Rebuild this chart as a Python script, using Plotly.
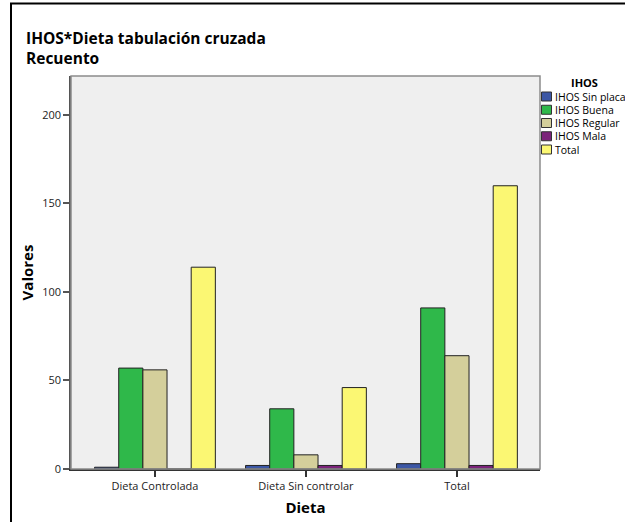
import plotly.graph_objects as go

# Cross-tabulation counts: IHOS category by diet group
categories = ["Dieta Controlada", "Dieta Sin controlar", "Total"]
series_names = ["IHOS Sin placa", "IHOS Buena", "IHOS Regular", "IHOS Mala", "Total"]
series_values = [
    [1, 2, 3],
    [57, 34, 91],
    [56, 8, 64],
    [0, 2, 2],
    [114, 46, 160],
]
series_colors = ["#3c57a5", "#2fb84a", "#d4cf9b", "#7b237a", "#fbf773"]
y_ticks = [0, 50, 100, 150, 200]

W, H = 625, 522
ML, MR, MT, MB = 71, 85, 76, 53
PW, PH = W - ML - MR, H - MT - MB

def px_x(x):
    return (x - ML) / PW

def px_y(y):
    return (H - MB - y) / PH

FONT = "Open Sans"

fig = go.Figure()
for name, vals, col in zip(series_names, series_values, series_colors):
    fig.add_trace(go.Bar(
        x=categories, y=vals, name=name,
        marker=dict(color=col, line=dict(color="#222222", width=1)),
        showlegend=False,
    ))

shapes = [
    # plot frame
    dict(type="rect", xref="paper", yref="paper", x0=0, y0=0, x1=1, y1=1,
         line=dict(color="#8c8c8c", width=1.5), layer="above"),
    # outer border of the output panel
    dict(type="line", xref="paper", yref="paper", x0=px_x(11), x1=px_x(11),
         y0=px_y(3), y1=px_y(530), line=dict(color="black", width=2)),
    dict(type="line", xref="paper", yref="paper", x0=px_x(10), x1=px_x(640),
         y0=px_y(3.5), y1=px_y(3.5), line=dict(color="black", width=2)),
]

annotations = [
    dict(text="<b>IHOS*Dieta tabulación cruzada</b><br><b>Recuento</b>",
         xref="paper", yref="paper", align="left",
         x=px_x(24), y=px_y(48), xanchor="left", yanchor="middle", showarrow=False,
         font=dict(family=FONT, size=15.5, color="black")),
    dict(text="<b>IHOS</b>", xref="paper", yref="paper",
         x=px_x(584), y=px_y(82), xanchor="center", yanchor="middle", showarrow=False,
         font=dict(family=FONT, size=11, color="black")),
]

# Hand-placed legend
for i, (name, col) in enumerate(zip(series_names, series_colors)):
    cy = 96.5 + i * 13.25
    shapes.append(dict(type="rect", xref="paper", yref="paper",
                       x0=px_x(541.5), x1=px_x(551.5), y0=px_y(cy - 4.5), y1=px_y(cy + 4.5),
                       fillcolor=col, line=dict(color="#333333", width=1)))
    annotations.append(dict(text=name, xref="paper", yref="paper",
                            x=px_x(553), y=px_y(cy), xanchor="left", yanchor="middle",
                            showarrow=False, font=dict(family=FONT, size=10.5, color="black")))

fig.update_layout(
    width=W, height=H,
    margin=dict(l=ML, r=MR, t=MT, b=MB, autoexpand=False),
    paper_bgcolor="white", plot_bgcolor="#efefef",
    barmode="group", bargap=0.2, bargroupgap=0,
    font=dict(family=FONT, size=11, color="#222222"),
    shapes=shapes, annotations=annotations,
    xaxis=dict(
        range=[-0.556, 2.55], showgrid=False, zeroline=False,
        showline=True, linecolor="#333333", linewidth=1.5,
        ticks="outside", ticklen=6, tickcolor="#333333", tickwidth=1.5,
        tickfont=dict(family=FONT, size=11, color="#222222"),
        title=dict(text="<b>Dieta</b>", font=dict(family=FONT, size=15, color="black"),
                   standoff=11),
    ),
    yaxis=dict(
        range=[0, 222], showgrid=False, zeroline=False,
        tickvals=y_ticks,
        showline=True, linecolor="#555555", linewidth=1.5,
        ticks="outside", ticklen=6, tickcolor="#555555", tickwidth=1.5,
        tickfont=dict(family=FONT, size=11, color="#222222"),
        title=dict(text="<b>Valores</b>", font=dict(family=FONT, size=15, color="black"),
                   standoff=5),
    ),
)

fig.write_html("out.html")
